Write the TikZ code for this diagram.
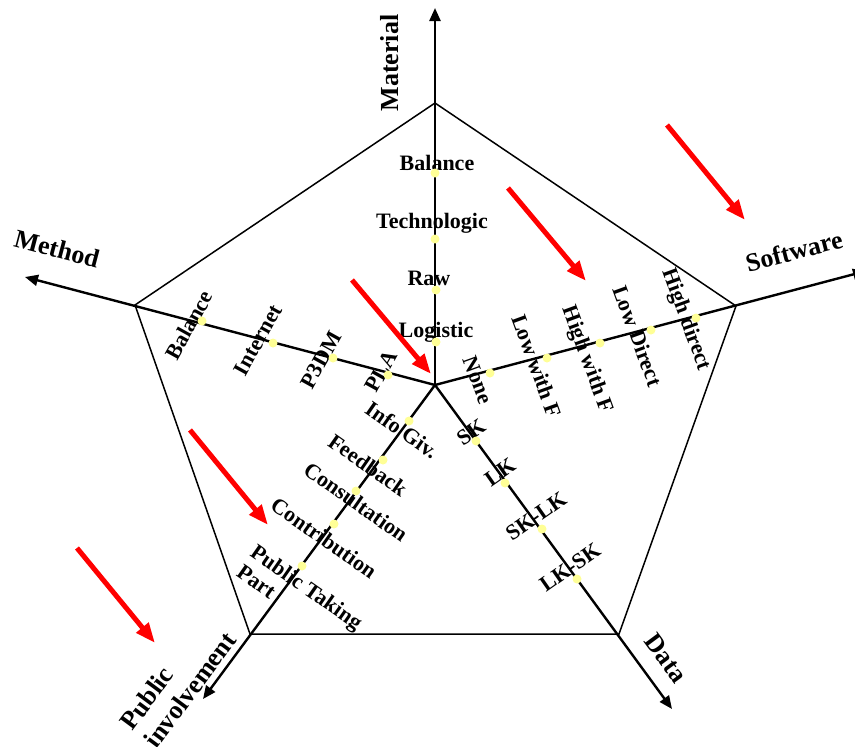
\documentclass[tikz,border=0pt]{standalone}
\usepackage{fontspec}
\setmainfont{Liberation Serif}
\usetikzlibrary{arrows.meta}
\definecolor{dotyellow}{RGB}{255,255,150}
\definecolor{arrred}{RGB}{255,0,0}
\begin{document}
\begin{tikzpicture}[x=1pt,y=-1pt,
  axis/.style={line width=2.4pt, -{Triangle[length=13pt,width=11pt]}},
  pent/.style={line width=1.5pt},
  dot/.style={circle, fill=dotyellow, inner sep=0pt, minimum size=9pt},
  lab/.style={font=\fontsize{22}{24}\selectfont\bfseries, inner sep=0pt},
  ttl/.style={font=\fontsize{26}{30}\selectfont\bfseries, inner sep=0pt},
  redarrow/.style={draw=arrred, line width=5pt, -{Triangle[length=20pt,width=15pt]}}]
\useasboundingbox (0,0) rectangle (855,747);
\begin{scope}
\clip (0,0) rectangle (855,747);
% centre, axis tips, pentagon vertices
\coordinate (C) at (435,385);
\coordinate (tM) at (435,8);
\coordinate (tMe) at (25,277);
\coordinate (tS) at (866,271);
\coordinate (tD) at (672,709);
\coordinate (tP) at (203,699);
\coordinate (v1) at (435,103);
\coordinate (v2) at (736,306);
\coordinate (v3) at (619,634);
\coordinate (v4) at (250,634);
\coordinate (v5) at (135,305);
% pentagon
\draw[pent] (v1) -- (v2) -- (v3) -- (v4) -- (v5) -- cycle;
% axes
\draw[axis] (C) -- (tM);
\draw[axis] (C) -- (tMe);
\draw[axis] (C) -- (tS);
\draw[axis] (C) -- (tD);
\draw[axis] (C) -- (tP);
% Material labels
\node[lab] (lm1) at (437,163) {Balance};
\node[lab] (lm2) at (432,223) {Technologic};
\node[lab] (lm3) at (429,278) {Raw};
\node[lab] (lm4) at (436,332) {Logistic};
% Method labels
\node[lab, rotate=61] (le1) at (189,325) {Balance};
\node[lab, rotate=61] (le2) at (258,340) {Internet};
\node[lab, rotate=61] (le3) at (321,360) {P3DM};
\node[lab, rotate=61] (le4) at (381,371) {PLA};
% Software labels
\node[lab, rotate=-70] (ls1) at (478,380) {None};
\node[lab, rotate=-70] (ls2) at (537,366) {Low with F};
\node[lab, rotate=-70] (ls3) at (587,360) {High with F};
\node[lab, rotate=-70] (ls4) at (638,336) {Low Direct};
\node[lab, rotate=-70] (ls5) at (686,320) {High direct};
% Data labels
\node[lab, rotate=35] (ld1) at (471,432) {SK};
\node[lab, rotate=35] (ld2) at (500,472) {LK};
\node[lab, rotate=35] (ld3) at (536,516) {SK-LK};
\node[lab, rotate=35] (ld4) at (570,567) {LK-SK};
% Public involvement labels
\node[lab, rotate=-35] (lp1) at (402,430) {Info Giv.};
\node[lab, rotate=-35] (lp2) at (368,465) {Feedback};
\node[lab, rotate=-35] (lp3) at (356,502) {Consultation};
\node[lab, rotate=-35] (lp4) at (324,538) {Contribution};
\node[lab, rotate=-35, align=left] (lp5) at (300,597) {Public Taking\\Part};
% dots
\node[dot] (m1) at (435,173) {};
\node[dot] (m2) at (435,239) {};
\node[dot] (m3) at (436,290) {};
\node[dot] (m4) at (436,342) {};
\node[dot] (e1) at (202,321) {};
\node[dot] (e2) at (273,343) {};
\node[dot] (e3) at (333,358) {};
\node[dot] (e4) at (388,375) {};
\node[dot] (s1) at (490,373) {};
\node[dot] (s2) at (547,358) {};
\node[dot] (s3) at (600,343) {};
\node[dot] (s4) at (651,330) {};
\node[dot] (s5) at (696,318) {};
\node[dot] (d1) at (476,441) {};
\node[dot] (d2) at (505,483) {};
\node[dot] (d3) at (542,529) {};
\node[dot] (d4) at (577,579) {};
\node[dot] (p1) at (409,421) {};
\node[dot] (p2) at (383,460) {};
\node[dot] (p3) at (356,491) {};
\node[dot] (p4) at (334,524) {};
\node[dot] (p5) at (302,566) {};
% axis titles
\node[ttl, rotate=90] (tt1) at (390,63) {Material};
\node[ttl, rotate=-14.75] (tt2) at (57,249) {Method};
\node[ttl, rotate=14.7] (tt3) at (794,251) {Software};
\node[ttl, rotate=-53.5] (tt4) at (666,658) {Data};
\node[ttl, rotate=53.5, align=left] (tt5) at (178,681) {Public\\involvement};
% red arrows
\coordinate (r1a) at (667,125); \coordinate (r1b) at (745,220);
\coordinate (r2a) at (508,188); \coordinate (r2b) at (586,281);
\coordinate (r3a) at (352,280); \coordinate (r3b) at (431,374);
\coordinate (r4a) at (190,430); \coordinate (r4b) at (268,525);
\coordinate (r5a) at (77,548);  \coordinate (r5b) at (155,643);
\draw[redarrow] (r1a) -- (r1b);
\draw[redarrow] (r2a) -- (r2b);
\draw[redarrow] (r3a) -- (r3b);
\draw[redarrow] (r4a) -- (r4b);
\draw[redarrow] (r5a) -- (r5b);
\end{scope}
\end{tikzpicture}
\end{document}
